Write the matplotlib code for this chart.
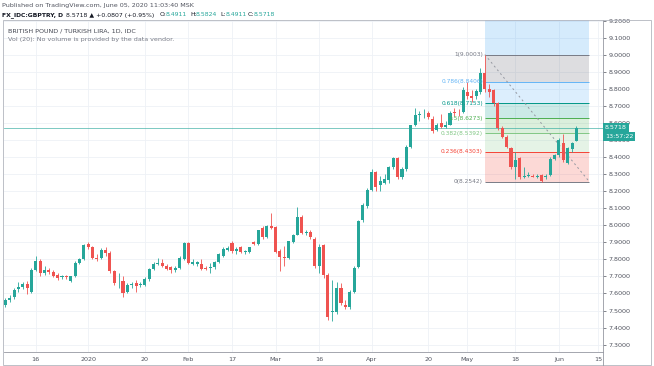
import numpy as np
import matplotlib
matplotlib.use("Agg")
import matplotlib.pyplot as plt
from matplotlib.patches import Rectangle
from matplotlib.lines import Line2D

# daily candles GBPTRY, index 0 = 16 Dec 2019 (trading days only)
day_index = list(range(-7, 125))
opens = [7.535, 7.56, 7.58, 7.625, 7.64, 7.655, 7.61,
         7.74, 7.79, 7.72, 7.74, 7.725, 7.71, 7.695, 7.70, 7.675, 7.70,
         7.78, 7.80, 7.89, 7.87, 7.81, 7.81, 7.855, 7.84, 7.73, 7.665,
         7.675, 7.61, 7.65, 7.66, 7.65, 7.65, 7.685, 7.745, 7.775, 7.78,
         7.76, 7.755, 7.735, 7.75, 7.80, 7.895, 7.775, 7.775, 7.775, 7.75,
         7.75, 7.755, 7.785, 7.82, 7.855, 7.895, 7.85, 7.87, 7.845, 7.845,
         7.90, 7.89, 7.985, 7.93, 7.995, 7.99, 7.85, 7.815, 7.81, 7.90,
         7.945, 8.05, 7.955, 7.96, 7.92, 7.76, 7.885, 7.71, 7.49, 7.49,
         7.635, 7.535, 7.52, 7.61, 7.755, 8.03, 8.115, 8.205, 8.31, 8.235,
         8.25, 8.265, 8.34, 8.395, 8.28, 8.33, 8.46, 8.585, 8.645, 8.65,
         8.655, 8.625, 8.56, 8.60, 8.575, 8.59, 8.665, 8.66, 8.665, 8.78,
         8.76, 8.755, 8.78, 8.895, 8.80, 8.79, 8.715, 8.57, 8.52, 8.45,
         8.34, 8.395, 8.285, 8.29, 8.29, 8.285, 8.295, 8.285, 8.295, 8.39,
         8.41, 8.48, 8.365, 8.445, 8.4911]
highs = [7.575, 7.59, 7.63, 7.665, 7.67, 7.675, 7.75,
         7.82, 7.80, 7.76, 7.75, 7.735, 7.72, 7.71, 7.71, 7.705, 7.79,
         7.81, 7.89, 7.90, 7.88, 7.83, 7.865, 7.87, 7.85, 7.74, 7.72,
         7.70, 7.66, 7.67, 7.68, 7.67, 7.695, 7.75, 7.785, 7.81, 7.80,
         7.77, 7.76, 7.76, 7.82, 7.90, 7.90, 7.80, 7.79, 7.80, 7.76,
         7.78, 7.79, 7.84, 7.875, 7.88, 7.905, 7.875, 7.88, 7.855, 7.875,
         7.905, 7.975, 7.995, 8.00, 8.07, 7.995, 7.86, 7.88, 7.91, 7.95,
         8.105, 8.06, 7.97, 7.97, 7.93, 7.89, 7.89, 7.72, 7.68, 7.67,
         7.66, 7.56, 7.62, 7.76, 8.03, 8.13, 8.22, 8.33, 8.32, 8.29,
         8.30, 8.35, 8.40, 8.40, 8.34, 8.47, 8.59, 8.69, 8.67, 8.68,
         8.67, 8.64, 8.60, 8.65, 8.61, 8.67, 8.69, 8.68, 8.81, 8.84,
         8.79, 8.80, 8.92, 9.0003, 8.83, 8.80, 8.72, 8.58, 8.53, 8.46,
         8.43, 8.40, 8.34, 8.31, 8.30, 8.30, 8.30, 8.30, 8.40, 8.42,
         8.51, 8.535, 8.46, 8.49, 8.5824]
lows = [7.52, 7.55, 7.57, 7.61, 7.625, 7.595, 7.60,
        7.73, 7.70, 7.71, 7.715, 7.695, 7.68, 7.685, 7.685, 7.665, 7.695,
        7.77, 7.795, 7.86, 7.80, 7.79, 7.80, 7.82, 7.72, 7.65, 7.63,
        7.58, 7.60, 7.635, 7.61, 7.64, 7.645, 7.675, 7.74, 7.765, 7.755,
        7.74, 7.72, 7.725, 7.745, 7.795, 7.775, 7.765, 7.76, 7.74, 7.735,
        7.72, 7.745, 7.78, 7.815, 7.85, 7.84, 7.83, 7.84, 7.83, 7.835,
        7.885, 7.885, 7.92, 7.925, 7.98, 7.84, 7.73, 7.76, 7.80, 7.895,
        7.94, 7.95, 7.945, 7.92, 7.75, 7.72, 7.69, 7.445, 7.44, 7.48,
        7.53, 7.51, 7.51, 7.60, 7.75, 8.02, 8.10, 8.20, 8.20, 8.20,
        8.24, 8.25, 8.33, 8.27, 8.27, 8.32, 8.45, 8.58, 8.61, 8.63,
        8.62, 8.54, 8.55, 8.57, 8.57, 8.585, 8.64, 8.64, 8.66, 8.74,
        8.72, 8.74, 8.77, 8.78, 8.75, 8.70, 8.56, 8.51, 8.45, 8.33,
        8.27, 8.27, 8.275, 8.28, 8.28, 8.275, 8.2542, 8.27, 8.29, 8.38,
        8.40, 8.37, 8.36, 8.43, 8.4911]
closes = [7.56, 7.575, 7.62, 7.64, 7.655, 7.63, 7.74,
          7.79, 7.72, 7.735, 7.725, 7.70, 7.69, 7.70, 7.695, 7.70, 7.78,
          7.80, 7.885, 7.875, 7.81, 7.80, 7.855, 7.835, 7.73, 7.66, 7.67,
          7.60, 7.65, 7.655, 7.645, 7.655, 7.685, 7.745, 7.775, 7.78, 7.76,
          7.745, 7.74, 7.75, 7.81, 7.895, 7.78, 7.785, 7.785, 7.745, 7.745,
          7.755, 7.785, 7.83, 7.86, 7.865, 7.85, 7.86, 7.845, 7.845, 7.87,
          7.89, 7.97, 7.93, 7.995, 7.985, 7.845, 7.815, 7.81, 7.905, 7.945,
          8.05, 7.955, 7.96, 7.93, 7.76, 7.87, 7.71, 7.46, 7.495, 7.63,
          7.545, 7.52, 7.61, 7.75, 8.025, 8.12, 8.205, 8.31, 8.225, 8.26,
          8.27, 8.34, 8.395, 8.28, 8.33, 8.46, 8.585, 8.645, 8.65, 8.65,
          8.635, 8.555, 8.585, 8.575, 8.59, 8.66, 8.655, 8.655, 8.79, 8.755,
          8.745, 8.785, 8.895, 8.80, 8.78, 8.715, 8.57, 8.52, 8.46, 8.34,
          8.38, 8.28, 8.29, 8.29, 8.285, 8.285, 8.26, 8.29, 8.39, 8.41,
          8.50, 8.38, 8.45, 8.48, 8.5718]

date_ticks = [0, 12, 25, 35, 45, 55, 65, 77, 90, 99, 110, 120, 129]
date_labels = ["16", "2020", "20", "Feb", "17", "Mar", "16", "Apr", "20", "May", "18", "Jun", "15"]
price_ticks = [7.3, 7.4, 7.5, 7.6, 7.7, 7.8, 7.9, 8.0, 8.1, 8.2, 8.3, 8.4, 8.5, 8.6, 8.7, 8.8, 8.9, 9.0, 9.1, 9.2]

# fibonacci retracement drawn from the May high to the late-May low
fib_high = 9.0003
fib_low = 8.2542
fib_start, fib_end = 103, 127
fib_levels = [0, 0.236, 0.382, 0.5, 0.618, 0.786, 1, 1.618]
fib_colors = ['#787b86', '#f44336', '#81c784', '#4caf50', '#009688', '#64b5f6', '#787b86', '#42a5f5']
fib_alpha = [0.2, 0.2, 0.2, 0.2, 0.2, 0.22, 0.25, 0.22]
last_price = 8.5718

up = '#26a69a'
down = '#ef5350'
grid_c = '#eef1f6'
txt_c = '#50535e'

W, H = 654, 366
fig = plt.figure(figsize=(W / 100, H / 100), dpi=100)
ax = fig.add_axes([4 / W, 14 / H, 599 / W, 332 / H])

xs = np.array(day_index)
o = np.array(opens); hi = np.array(highs); lo = np.array(lows); c = np.array(closes)
cols = np.where(c >= o, up, down)
ax.vlines(xs, lo, hi, colors=cols, lw=0.6, zorder=3)
body_bottom = np.minimum(o, c)
body_h = np.maximum(np.abs(c - o), 0.004)
ax.bar(xs, body_h, bottom=body_bottom, width=0.7, color=cols, lw=0, zorder=4)

# fib zones
def fib_price(lv):
    return fib_low + lv * (fib_high - fib_low)

for k in range(1, len(fib_levels)):
    y0 = fib_price(fib_levels[k - 1]); y1 = fib_price(fib_levels[k])
    ax.add_patch(Rectangle((fib_start, y0), fib_end - fib_start, y1 - y0,
                           facecolor=fib_colors[k], alpha=fib_alpha[k], lw=0, zorder=1))
for k, lv in enumerate(fib_levels[:-1]):
    p = fib_price(lv)
    ax.hlines(p, fib_start, fib_end, colors=fib_colors[k], lw=0.7, zorder=2)
    lab = ("%g" % lv) + "(%.4f)" % p
    ax.text(fib_start - 0.4, p, lab, color=fib_colors[k], fontsize=4.2,
            ha='right', va='center', zorder=5)
ax.plot([fib_start, fib_end], [fib_high, fib_low], color='#9598a1', lw=0.7,
        ls=(0, (2, 3)), zorder=2)

# current price line
ax.axhline(last_price, color=up, lw=0.6, alpha=0.7, zorder=2)

ax.set_xlim(-7.3, 130.1)
ax.set_ylim(7.257, 9.203)
ax.set_xticks(date_ticks)
ax.set_xticklabels(date_labels)
ax.set_yticks(price_ticks)
ax.set_yticklabels(["%.4f" % p for p in price_ticks])
ax.yaxis.tick_right()
ax.tick_params(axis='y', labelsize=4.6, colors=txt_c, length=2, width=0.5, pad=2,
               labelcolor=txt_c)
ax.tick_params(axis='x', labelsize=4.6, colors=txt_c, length=0, pad=3.5)
ax.grid(True, color=grid_c, lw=0.6, zorder=0)
ax.set_axisbelow(True)
for s in ['top', 'left']:
    ax.spines[s].set_visible(False)
for s in ['right', 'bottom']:
    ax.spines[s].set_color('#9598a1')
    ax.spines[s].set_linewidth(0.6)

# price label boxes on the axis
trans = ax.get_yaxis_transform()
ax.text(1.003, last_price, "8.5718", transform=trans, fontsize=4.6, color='white',
        va='center', ha='left', clip_on=False, zorder=10,
        bbox=dict(boxstyle='square,pad=0.35', fc=up, ec='none'))
ax.text(1.003, last_price - 0.052, "13:57:22", transform=trans, fontsize=4.6,
        color='white', va='center', ha='left', clip_on=False, zorder=10,
        bbox=dict(boxstyle='square,pad=0.35', fc=up, ec='none'))

# titles inside chart
ax.text(0.006, 0.975, "BRITISH POUND / TURKISH LIRA, 1D, IDC", transform=ax.transAxes,
        fontsize=4.6, color='#434651', va='top', ha='left')
ax.text(0.006, 0.948, "Vol (20): No volume is provided by the data vendor.",
        transform=ax.transAxes, fontsize=4.6, color='#787b86', va='top', ha='left')

# outer frame
fig.add_artist(Rectangle((3 / W, 1 / H), 648 / W, 345 / H, transform=fig.transFigure,
                         fill=False, ec='#b2b5be', lw=0.6))
fig.add_artist(Line2D([603 / W, 603 / W], [1 / H, 14 / H], transform=fig.transFigure,
                      color='#9598a1', lw=0.6))

# header lines
fig.text(2 / W, 1 - 5 / H, "Published on TradingView.com, June 05, 2020 11:03:40 MSK",
         fontsize=4.6, color='#50535e', va='center', ha='left')
hy = 1 - 15 / H
fig.text(2 / W, hy, "FX_IDC:GBPTRY, D", fontsize=4.4, fontweight='bold',
         color='#131722', va='center', ha='left')
fig.text(66 / W, hy, "8.5718 \u25b2 +0.0807 (+0.95%)", fontsize=4.4, color='#131722',
         va='center', ha='left')
parts = [("O:", "8.4911", 160), ("H:", "8.5824", 190), ("L:", "8.4911", 220), ("C:", "8.5718", 248)]
for key, val, px in parts:
    fig.text(px / W, hy, key, fontsize=4.4, color='#131722', va='center', ha='left')
    fig.text((px + 6) / W, hy, val, fontsize=4.4, color=up, va='center', ha='left')

fig.savefig("out.png", dpi=100)
